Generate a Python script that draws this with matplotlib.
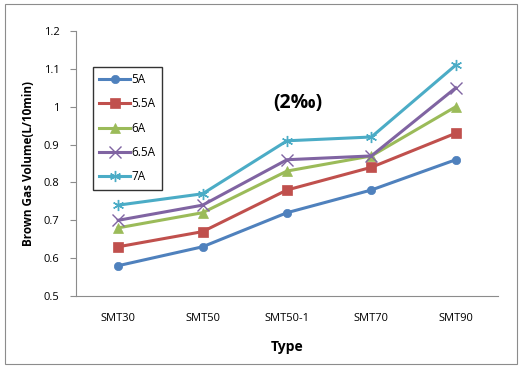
import numpy as np
import matplotlib.pyplot as plt
from matplotlib.patches import Rectangle

plt.rcParams['font.family'] = ['Open Sans', 'DejaVu Sans']

categories = ['SMT30', 'SMT50', 'SMT50-1', 'SMT70', 'SMT90']
labels = ['5A', '5.5A', '6A', '6.5A', '7A']
v_5a = [0.58, 0.63, 0.72, 0.78, 0.86]
v_55a = [0.63, 0.67, 0.78, 0.84, 0.93]
v_6a = [0.68, 0.72, 0.83, 0.87, 1.00]
v_65a = [0.70, 0.74, 0.86, 0.87, 1.05]
v_7a = [0.74, 0.77, 0.91, 0.92, 1.11]

colors = ['#4F81BD', '#C0504D', '#9BBB59', '#8064A2', '#4BACC6']
markers = ['o', 's', '^', 'x', (6, 2, 0)]
sizes = [6, 7, 7, 8, 8]

fig = plt.figure(figsize=(5.22, 3.67), dpi=100)
fig.patches.append(Rectangle((0.009, 0.008), 0.982, 0.98, transform=fig.transFigure,
                             fill=False, edgecolor='#8c8c8c', linewidth=0.8))
ax = fig.add_axes([0.1456, 0.1935, 0.8084, 0.722])

x = np.arange(len(categories))
for vals, lab, c, m, s in zip([v_5a, v_55a, v_6a, v_65a, v_7a], labels, colors, markers, sizes):
    ax.plot(x, vals, color=c, marker=m, markersize=s, linewidth=2.2, label=lab,
            markeredgewidth=1.0 if m in ('x', (6, 2, 0)) else 0.5, markeredgecolor=c)

ax.set_xlim(-0.5, 4.5)
ax.set_ylim(0.5, 1.2)
ax.set_yticks(np.arange(0.5, 1.21, 0.1))
ax.set_yticklabels(['0.5', '0.6', '0.7', '0.8', '0.9', '1', '1.1', '1.2'])
ax.set_xticks(x)
ax.set_xticklabels(categories)
ax.tick_params(axis='x', length=0, pad=12, labelsize=8)
ax.tick_params(axis='y', length=4, width=0.8, color='#8c8c8c', labelsize=8, pad=8)
for side in ['top', 'right']:
    ax.spines[side].set_visible(False)
for side in ['left', 'bottom']:
    ax.spines[side].set_color('#8c8c8c')
    ax.spines[side].set_linewidth(0.8)

ax.set_ylabel('Brown Gas Volume(L/10min)', fontsize=8.5, fontweight='bold', labelpad=6)
ax.set_xlabel('Type', fontsize=10, fontweight='bold', labelpad=12)

ax.text(2.13, 1.01, '(2‰)', fontsize=14, fontweight='bold', ha='center', va='center')

leg = ax.legend(loc='upper left', bbox_to_anchor=(0.04, 0.865), borderaxespad=0,
                fontsize=8.5, frameon=True, fancybox=False, edgecolor='black',
                handlelength=2.6, handletextpad=0.1, labelspacing=0.95, borderpad=0.55)
leg.get_frame().set_linewidth(1.0)

fig.savefig('out.png', dpi=100)
